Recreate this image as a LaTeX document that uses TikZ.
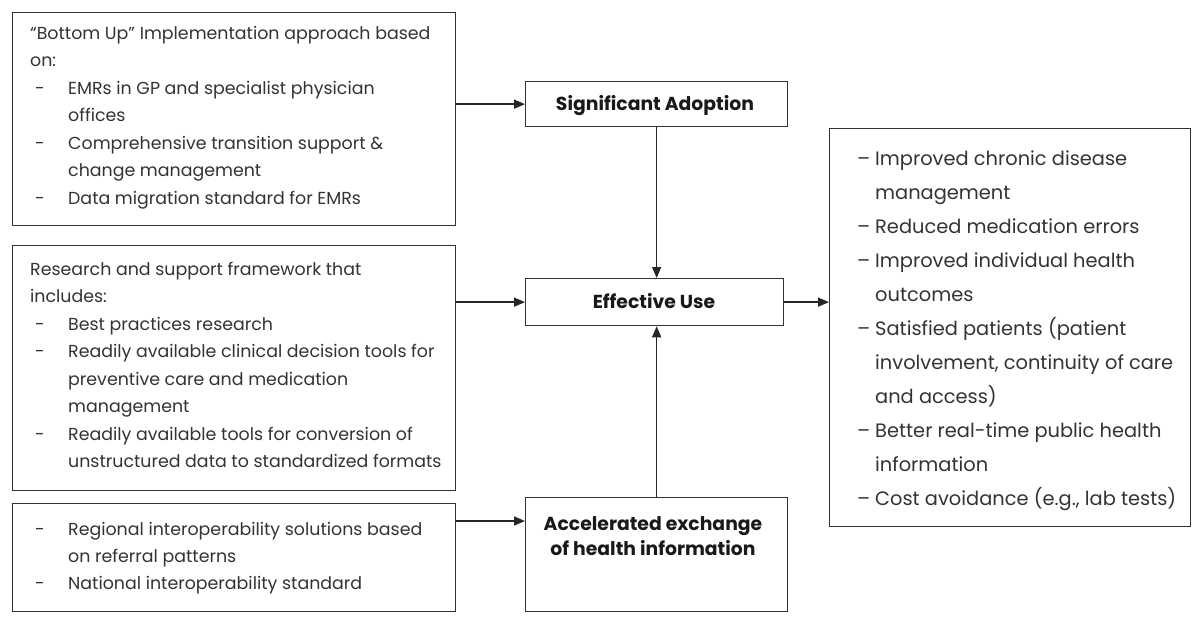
\documentclass[tikz,border=0pt]{standalone}
\usepackage{fontspec}
\setmainfont{Poppins}
\usetikzlibrary{arrows.meta}
\newcommand{\dsh}{\hspace{5pt}-}
\begin{document}
\begin{tikzpicture}[x=1pt,y=-1pt,
  box/.style={draw=black!80, line width=1.3pt, anchor=north west, inner sep=0pt},
  txt/.style={anchor=base west, inner sep=0pt, align=left},
  mid/.style={inner sep=0pt, font=\fontsize{18.8}{25}\selectfont\bfseries, text=black!90},
  arr/.style={line width=1.4pt, draw=black!85, -{Triangle[length=11pt,width=9pt]}}]
\useasboundingbox[fill=white] (0,0) rectangle (1194,616);
% left boxes
\node[box, minimum width=443pt, minimum height=213pt] (b1) at (12,12) {};
\node[box, minimum width=443pt, minimum height=245pt] (b2) at (12,245) {};
\node[box, minimum width=443pt, minimum height=108pt] (b3) at (12,503) {};
% centre boxes
\node[box, minimum width=262pt, minimum height=45pt] (sa) at (525,81) {};
\node[box, minimum width=258pt, minimum height=47pt] (eu) at (525,278) {};
\node[box, minimum width=262pt, minimum height=114pt] (acc) at (525,497) {};
% right box
\node[box, minimum width=361pt, minimum height=398pt] (out) at (829,128) {};
% left texts
\node[txt, text=black!80] (t1) at (30,39) {\fontsize{17.4}{27.5}\selectfont
\begin{tabular}[t]{@{}p{38pt}@{}l@{}}
\multicolumn{2}{@{}l@{}}{``Bottom Up'' Implementation approach based}\\
\multicolumn{2}{@{}l@{}}{on:}\\
\dsh & EMRs in GP and specialist physician\\
 & offices\\
\dsh & Comprehensive transition support \&\\
 & change management\\
\dsh & Data migration standard for EMRs
\end{tabular}};
\node[txt, text=black!80] (t2) at (30,275) {\fontsize{17.4}{27.5}\selectfont
\begin{tabular}[t]{@{}p{38pt}@{}l@{}}
\multicolumn{2}{@{}l@{}}{Research and support framework that}\\
\multicolumn{2}{@{}l@{}}{includes:}\\
\dsh & Best practices research\\
\dsh & Readily available clinical decision tools for\\
 & preventive care and medication\\
 & management\\
\dsh & Readily available tools for conversion of\\
 & unstructured data to standardized formats
\end{tabular}};
\node[txt, text=black!80] (t3) at (30,535) {\fontsize{17.4}{27}\selectfont
\begin{tabular}[t]{@{}p{38pt}@{}l@{}}
\dsh & Regional interoperability solutions based\\
 & on referral patterns\\
\dsh & National interoperability standard
\end{tabular}};
% centre texts
\node[mid, anchor=base] (tsa) at (655,110) {Significant Adoption};
\node[mid, anchor=base] (teu) at (654,308) {Effective Use};
\node[mid, anchor=base, align=center] (tacc) at (653,555) {Accelerated exchange\\of health information};
% right text
\node[txt, text=black!80] (t4) at (857,165) {\fontsize{19.4}{34}\selectfont
\begin{tabular}[t]{@{}p{18pt}@{}l@{}}
-- & Improved chronic disease\\
 & management\\
-- & Reduced medication errors\\
-- & Improved individual health\\
 & outcomes\\
-- & Satisfied patients (patient\\
 & involvement, continuity of care\\
 & and access)\\
-- & Better real-time public health\\
 & information\\
-- & Cost avoidance (e.g., lab tests)
\end{tabular}};
% connectors
\coordinate (y3) at (0,521);
\draw[arr] (b1.east |- sa.west) -- (sa.west);
\draw[arr] (b2.east |- eu.west) -- (eu.west);
\draw[arr] (b3.east |- y3) -- (acc.west |- y3);
\draw[arr] (sa.south) -- (sa.south |- eu.north);
\draw[arr] (acc.north) -- (acc.north |- eu.south);
\draw[arr] (eu.east) -- (out.west |- eu.east);
\end{tikzpicture}
\end{document}
